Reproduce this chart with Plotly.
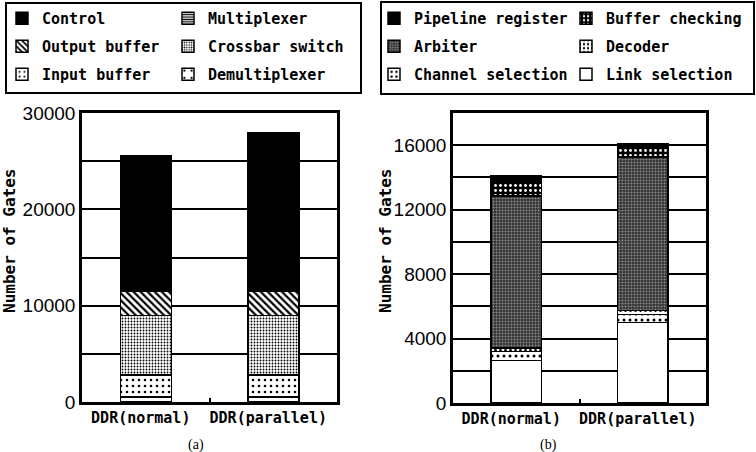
import plotly.graph_objects as go

categories = ["DDR(normal)", "DDR(parallel)"]

# Panel (a) components, bottom to top
demultiplexer = [500, 500]
input_buffer = [2300, 2300]
crossbar_switch = [6200, 6200]
output_buffer = [2450, 2450]
multiplexer = [180, 180]
control = [13970, 16270]

# Panel (b) components, bottom to top
link_selection = [2650, 5000]
channel_selection = [550, 500]
decoder = [200, 230]
arbiter = [9450, 9550]
buffer_checking = [830, 620]
pipeline_register = [410, 200]

W, H = 756, 452
MONO = "DejaVu Sans Mono"

fig = go.Figure()

def px(x):
    return x / W

def py(y):
    return 1 - y / H

def add_bar(name, vals, xa, ya, legend, rank, color, shape="", fg="black", bg="white", size=6, sol=0.3):
    marker = dict(color=color, line=dict(color="black", width=1.5))
    if shape:
        marker["pattern"] = dict(shape=shape, fgcolor=fg, bgcolor=bg, size=size,
                                 solidity=sol, fillmode="replace")
    fig.add_trace(go.Bar(
        name=name, x=categories, y=vals, xaxis=xa, yaxis=ya,
        legend=legend, legendgroup=name, legendrank=rank, marker=marker, width=0.4,
    ))

# panel (a)
add_bar("Demultiplexer", demultiplexer, "x", "y", "legend2", 3, "white", ".", size=9, sol=0.08)
add_bar("Input buffer", input_buffer, "x", "y", "legend", 3, "white", ".", size=6, sol=0.15)
add_bar("Crossbar switch", crossbar_switch, "x", "y", "legend2", 2, "white", ".", size=3, sol=0.3)
add_bar("Output buffer", output_buffer, "x", "y", "legend", 2, "white", "\\", size=5, sol=0.45)
add_bar("Multiplexer", multiplexer, "x", "y", "legend2", 1, "white", "-", size=3, sol=0.5)
add_bar("Control", control, "x", "y", "legend", 1, "black")

# panel (b)
add_bar("Link selection", link_selection, "x2", "y2", "legend4", 3, "white")
add_bar("Channel selection", channel_selection, "x2", "y2", "legend3", 3, "white", ".", size=6, sol=0.2)
add_bar("Decoder", decoder, "x2", "y2", "legend4", 2, "white", ".", size=5, sol=0.25)
add_bar("Arbiter", arbiter, "x2", "y2", "legend3", 2, "#3a3a3a", ".", fg="#8a8a8a", bg="#333333", size=3, sol=0.35)
add_bar("Buffer checking", buffer_checking, "x2", "y2", "legend4", 1, "black", ".", fg="white", bg="black", size=5, sol=0.25)
add_bar("Pipeline register", pipeline_register, "x2", "y2", "legend3", 1, "black")

axis_common = dict(showline=True, linecolor="black", linewidth=2.5, mirror=True,
                   automargin=False, zeroline=False)

xcommon = dict(axis_common, type="category", ticks="inside", tickson="boundaries",
               ticklen=4, tickwidth=1.5, tickcolor="black", showgrid=False, tickangle=0,
               tickfont=dict(family=MONO, size=15, color="black", weight="bold"),
               ticklabelshift=-5)

ycommon = dict(axis_common, ticks="", showgrid=True, gridcolor="black", gridwidth=1.8,
               tickformat="d",
               tickfont=dict(family="Liberation Sans", size=19, color="black"))

leg_common = dict(bgcolor="rgba(0,0,0,0)", borderwidth=0, xanchor="left", yanchor="top",
                  traceorder="grouped", tracegroupgap=5.5,
                  font=dict(family=MONO, size=15, color="black", weight="bold"))

title_font = dict(family=MONO, size=16, color="black", weight="bold")

fig.update_layout(
    width=W, height=H,
    margin=dict(l=0, r=0, t=0, b=0),
    paper_bgcolor="white", plot_bgcolor="white",
    barmode="stack",
    showlegend=True,
    xaxis=dict(xcommon, domain=[px(82), px(337)], anchor="y"),
    yaxis=dict(ycommon, domain=[py(402), py(113)], anchor="x", range=[0, 30000],
               tickvals=[0, 10000, 20000, 30000],
               minor=dict(dtick=5000, showgrid=True, gridcolor="black", gridwidth=1.8)),
    xaxis2=dict(xcommon, domain=[px(453), px(706)], anchor="y2"),
    yaxis2=dict(ycommon, domain=[py(403), py(113)], anchor="x2", range=[0, 18000],
                tickvals=[0, 4000, 8000, 12000, 16000],
                minor=dict(dtick=2000, showgrid=True, gridcolor="black", gridwidth=1.8)),
    legend=dict(leg_common, x=px(2), y=py(2)),
    legend2=dict(leg_common, x=px(168), y=py(2)),
    legend3=dict(leg_common, x=px(374), y=py(2)),
    legend4=dict(leg_common, x=px(566), y=py(2)),
    shapes=[
        dict(type="rect", xref="paper", yref="paper", x0=px(6), x1=px(361), y0=py(93), y1=py(3),
             line=dict(color="black", width=2)),
        dict(type="rect", xref="paper", yref="paper", x0=px(381), x1=px(754), y0=py(94), y1=py(2),
             line=dict(color="black", width=2)),
    ],
    annotations=[
        dict(text="Number of Gates", textangle=-90, xref="paper", yref="paper",
             x=px(9), y=py(241), xanchor="center", yanchor="middle", showarrow=False,
             font=title_font),
        dict(text="Number of Gates", textangle=-90, xref="paper", yref="paper",
             x=px(385), y=py(241), xanchor="center", yanchor="middle", showarrow=False,
             font=title_font),
        dict(text="(a)", xref="paper", yref="paper", x=px(196), y=py(435), yanchor="top",
             xanchor="center", showarrow=False,
             font=dict(family="Liberation Serif", size=14, color="black")),
        dict(text="(b)", xref="paper", yref="paper", x=px(548), y=py(435), yanchor="top",
             xanchor="center", showarrow=False,
             font=dict(family="Liberation Serif", size=14, color="black")),
    ],
)

fig.write_html("out.html")
